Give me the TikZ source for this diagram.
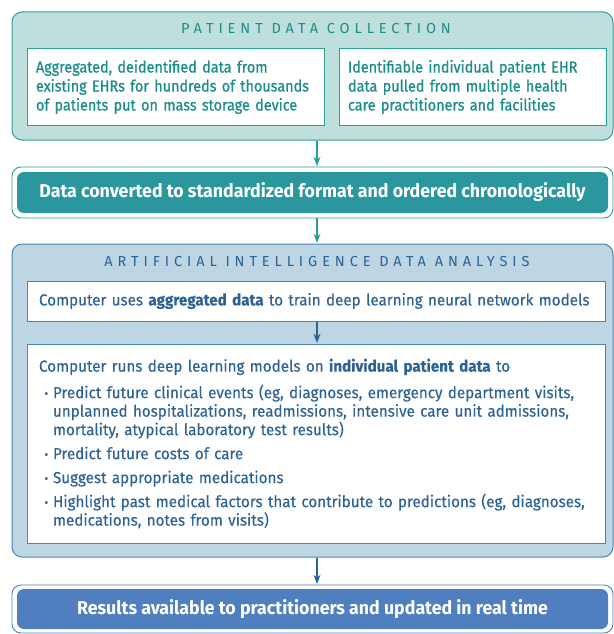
\documentclass[tikz,border=0pt]{standalone}
\usepackage{fontspec}
\setmainfont{Fira Sans}
\usepackage{xcolor}
\usepackage{tikz}
\usetikzlibrary{positioning,arrows.meta}

\definecolor{tealbar}{HTML}{2A979F}
\definecolor{tealline}{HTML}{2E9E9A}
\definecolor{tealpale}{HTML}{BEDFDC}
\definecolor{tealtext}{HTML}{1C8D89}
\definecolor{blueline}{HTML}{4A84AF}
\definecolor{bluepale}{HTML}{BED5E3}
\definecolor{bluetext}{HTML}{2D6294}
\definecolor{bluebar}{HTML}{4F7FBF}

% bullet row with hanging indent
\newcommand{\bitem}[1]{\hspace*{5.5pt}\makebox[8.5pt][l]{\raisebox{0.5pt}{\scalebox{0.75}{\textbullet}}}#1}
\newcommand{\bcont}[1]{\hspace*{14pt}#1}

\begin{document}
\begin{tikzpicture}[x=1pt,y=1pt,>=Stealth,
  every node/.style={font=\fontsize{16}{18.5}\selectfont\addfontfeature{FakeStretch=0.95,FakeBold=0.2}},
  panel/.style={draw,rounded corners=10pt,line width=1pt,minimum width=601pt},
  card/.style={draw,fill=white,line width=1pt,align=left,inner xsep=12pt,inner ysep=0pt},
  tealcard/.style={card,draw=tealline,text=tealtext,minimum height=77pt,inner xsep=9pt,
    font=\fontsize{16}{19}\selectfont\addfontfeature{FakeStretch=0.9,FakeBold=0.8}},
  heading/.style={font=\fontsize{14.5}{16}\selectfont\addfontfeature{LetterSpace=34}},
  rim/.style={draw,fill=white,rounded corners=9pt,line width=0.9pt,minimum width=601pt},
  bar/.style={rounded corners=7pt,minimum width=591pt,minimum height=41pt,text=white,
    font=\bfseries\fontsize{18.5}{20}\selectfont\addfontfeature{FakeStretch=0.96}},
  flow/.style={->,line width=1.4pt,shorten >=0.5pt}
]
\useasboundingbox (0,0) rectangle (613,-634);
\coordinate (axis) at (317,0);

% Patient data collection
\node[panel,draw=tealline,fill=tealpale,minimum height=128pt] (collect) at (312.5,-76) {};
\node[heading,text=tealtext] (collecttitle) at (316,-29) {PATIENT DATA COLLECTION};
\node[tealcard,text width=279pt] (aggregated) at (175.5,-87)
  {\mbox{Aggregated, deidentified data from}\\ \mbox{existing EHRs for hundreds of thousands}\\ \mbox{of patients put on mass storage device}};
\node[tealcard,text width=249pt] (individual) at (472.5,-87)
  {Identifiable individual patient EHR\\data pulled from multiple health\\care practitioners and facilities};

% Standardized format
\node[rim,draw=tealline,minimum height=51pt] (convrim) at (312.5,-192.5) {};
\node[bar,fill=tealbar] (convert) at (convrim) {Data converted to standardized format and ordered chronologically};

% Artificial intelligence data analysis
\node[panel,draw=blueline,fill=bluepale,minimum height=313pt] (analysis) at (312.5,-400.5) {};
\node[heading,text=bluetext] (analysistitle) at (317,-262) {ARTIFICIAL INTELLIGENCE DATA ANALYSIS};
\node[card,draw=blueline,text=bluetext,text width=554pt,minimum height=40pt] (train) at (316,-301)
  {Computer uses \textbf{aggregated data} to train deep learning neural network models};
\node[card,draw=blueline,text=bluetext,text width=554pt,minimum height=199pt] (run) at (316,-443.5)
  {Computer runs deep learning models on \textbf{individual patient data} to\\[8pt]
   \bitem{Predict future clinical events (eg, diagnoses, emergency department visits,}\\
   \bcont{unplanned hospitalizations, readmissions, intensive care unit admissions,}\\
   \bcont{mortality, atypical laboratory test results)}\\[5.5pt]
   \bitem{Predict future costs of care}\\[5.5pt]
   \bitem{Suggest appropriate medications}\\[5.5pt]
   \bitem{Highlight past medical factors that contribute to predictions (eg, diagnoses,}\\
   \bcont{medications, notes from visits)}};

% Results
\node[rim,draw=bluebar,minimum height=48pt] (resultrim) at (312.5,-609) {};
\node[bar,fill=bluebar,minimum height=40pt] (result) at (resultrim) {Results available to practitioners and updated in real time};

\draw[flow,tealline] (collect.south -| axis) -- (convrim.north -| axis);
\draw[flow,tealline] (convrim.south -| axis) -- (analysis.north -| axis);
\draw[flow,bluetext] (train.south -| axis) -- (run.north -| axis);
\draw[flow,bluetext] (analysis.south -| axis) -- (resultrim.north -| axis);
\end{tikzpicture}
\end{document}
